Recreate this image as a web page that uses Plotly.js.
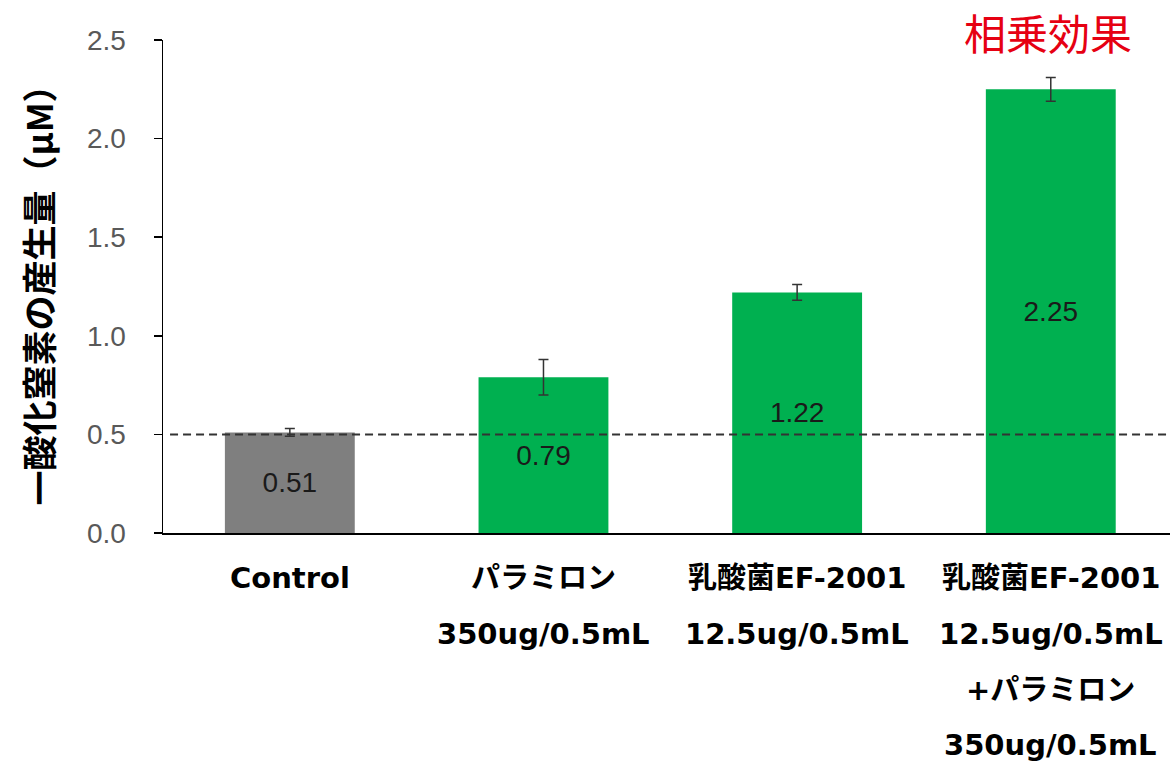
<!DOCTYPE html>
<html>
<head>
<meta charset="utf-8">
<script src="https://cdn.plot.ly/plotly-3.0.1.min.js"></script>
<style>html,body{margin:0;padding:0;background:#fff;}#chart{width:1170px;height:772px;}</style>
</head>
<body>
<div id="chart"></div>
<script>
// ---- data ----
const categories = ['Control', 'パラミロン', '乳酸菌EF-2001', '乳酸菌EF-2001 + パラミロン'];
const labelLine1 = ['Control', 'パラミロン', '乳酸菌EF-2001', '乳酸菌EF-2001'];
const labelLine2 = ['', '350ug/0.5mL', '12.5ug/0.5mL', '12.5ug/0.5mL'];
const labelLine3 = ['', '', '', '+パラミロン'];
const labelLine4 = ['', '', '', '350ug/0.5mL'];
const noValues = [0.51, 0.79, 1.22, 2.25];
const noErrors = [0.02, 0.09, 0.04, 0.06];
const referenceLevel = [0.5];
const yTickValues = [0.0, 0.5, 1.0, 1.5, 2.0, 2.5];
const yTickLabels = ['0.0', '0.5', '1.0', '1.5', '2.0', '2.5'];
const chartTitle = '相乗効果';
const yTitle = '一酸化窒素の産生量（μM）';

// ---- styles ----
const barColors = ['#7f7f7f', '#00b050', '#00b050', '#00b050'];
const xIdx = categories.map((c, i) => i);

const trace = {
  type: 'bar',
  x: xIdx,
  y: noValues,
  marker: { color: barColors, line: { width: 0 } },
  error_y: { type: 'data', array: noErrors, visible: true, color: '#333333', thickness: 1.5, width: 5 },
  text: noValues.map(v => v.toFixed(2)),
  texttemplate: '%{text}',
  textposition: 'inside',
  insidetextanchor: 'middle',
  textangle: 0,
  textfont: { family: 'Liberation Sans, Arial, sans-serif', size: 28, color: '#1a1a1a' },
  hoverinfo: 'skip'
};

const rows = [labelLine1, labelLine2, labelLine3, labelLine4];
const rowShift = [45, 101, 157, 212];
const annotations = [];
rows.forEach((row, r) => {
  row.forEach((txt, i) => {
    if (!txt) return;
    annotations.push({
      xref: 'x', yref: 'paper', x: xIdx[i], y: 0,
      xanchor: 'center', yanchor: 'middle', yshift: -rowShift[r],
      text: '<b>' + txt + '</b>', showarrow: false,
      font: { family: 'DejaVu Sans, Noto Sans CJK JP, sans-serif', size: 29, color: '#000000' }
    });
  });
});

const layout = {
  width: 1170, height: 772,
  margin: { l: 163, r: 0, t: 40, b: 239 },
  paper_bgcolor: '#ffffff', plot_bgcolor: '#ffffff',
  showlegend: false,
  bargap: 0.488,
  title: {
    text: chartTitle, x: 1048 / 1170, xanchor: 'center', xref: 'container',
    y: 1 - 35 / 772, yanchor: 'middle', yref: 'container',
    font: { family: 'Noto Sans CJK JP, sans-serif', size: 42, color: '#e60012' }
  },
  xaxis: {
    range: [-0.5, 3.47], showline: true, linecolor: '#000000', linewidth: 1.5,
    showticklabels: false, ticks: '', showgrid: false, zeroline: false, fixedrange: true
  },
  yaxis: {
    range: [0, 2.5], tickmode: 'array', tickvals: yTickValues, ticktext: yTickLabels,
    ticks: 'outside', ticklen: 8, tickwidth: 1.5, tickcolor: '#000000',
    ticklabelstandoff: 22,
    tickfont: { family: 'Liberation Sans, Arial, sans-serif', size: 28, color: '#595959' },
    showline: true, linecolor: '#000000', linewidth: 1.5, showgrid: false, zeroline: false,
    title: {
      text: '<b>' + yTitle + '</b>', standoff: 22,
      font: { family: 'Noto Sans CJK JP, sans-serif', size: 35, color: '#000000' }
    },
    fixedrange: true
  },
  shapes: [{
    type: 'line', xref: 'paper', yref: 'y', x0: 0.007, x1: 1,
    y0: referenceLevel[0], y1: referenceLevel[0],
    line: { color: '#333333', width: 2, dash: '8px,5px' }, layer: 'above'
  }],
  annotations: annotations
};

Plotly.newPlot('chart', [trace], layout, { displayModeBar: false, staticPlot: true });
</script>
</body>
</html>
